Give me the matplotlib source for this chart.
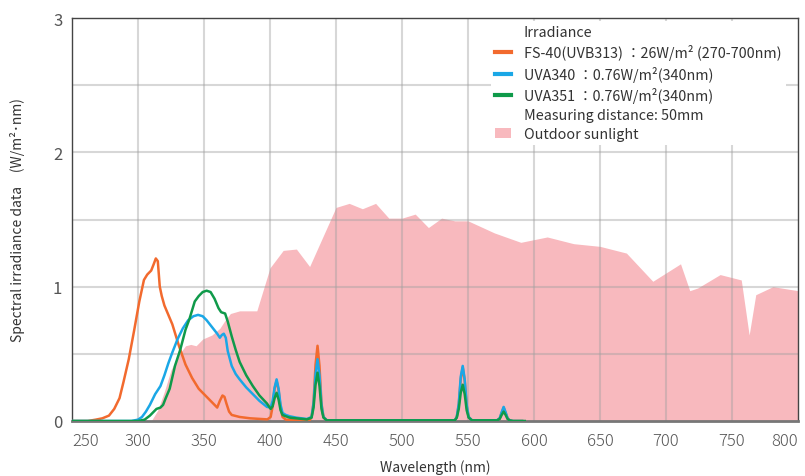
import matplotlib
matplotlib.use("Agg")
import matplotlib.pyplot as plt
from matplotlib.lines import Line2D
from matplotlib.patches import Patch

plt.rcParams['font.family'] = ['Noto Sans CJK JP', 'DejaVu Sans']

# ---- data ----
sun_nm = [310, 315, 320, 325, 330, 336, 340, 344, 349, 356, 362, 366, 370, 377, 390,
          400, 410, 420, 430, 450, 460, 470, 480, 490, 500, 510, 520, 530, 540, 550,
          570, 590, 610, 630, 650, 670, 690, 711, 718, 724, 741, 757, 763, 768, 781, 800]
sun_val = [0.0, 0.08, 0.22, 0.38, 0.48, 0.56, 0.57, 0.56, 0.61, 0.64, 0.69, 0.75, 0.80, 0.82, 0.82,
           1.14, 1.27, 1.28, 1.15, 1.59, 1.62, 1.58, 1.62, 1.51, 1.51, 1.54, 1.44, 1.51, 1.49, 1.49,
           1.40, 1.33, 1.37, 1.32, 1.30, 1.25, 1.04, 1.17, 0.97, 0.99, 1.09, 1.05, 0.64, 0.94, 1.00, 0.97]

fs40_nm = [250, 262, 268, 273, 278, 282, 286, 289, 293, 297, 301, 304.5, 307, 310, 312, 313.5,
           315, 316.5, 318, 320, 326, 331, 336, 341, 346, 352, 357, 360, 362, 364, 365.5, 367,
           369, 371, 377, 385, 398, 400.5, 402, 403.5, 405, 406.5, 408, 409.5, 412, 430,
           431.5, 433, 434.5, 436, 437.5, 439, 440.5, 443, 540, 541.5, 543, 544.5, 546,
           547.5, 549, 550.5, 553, 572, 574, 575.5, 577, 578.5, 580, 581.5, 584, 591]
fs40_val = [0.0, 0.0, 0.01, 0.02, 0.04, 0.09, 0.17, 0.29, 0.46, 0.67, 0.89, 1.05, 1.09, 1.12, 1.17, 1.21,
            1.19, 1.0, 0.93, 0.86, 0.72, 0.56, 0.42, 0.32, 0.24, 0.18, 0.13, 0.10, 0.15, 0.19, 0.18, 0.13,
            0.07, 0.045, 0.03, 0.02, 0.012, 0.03, 0.11, 0.24, 0.30, 0.23, 0.10, 0.03, 0.01, 0.005,
            0.03, 0.14, 0.42, 0.56, 0.41, 0.13, 0.03, 0.005, 0.005, 0.03, 0.12, 0.31, 0.40,
            0.30, 0.11, 0.03, 0.005, 0.005, 0.02, 0.06, 0.10, 0.06, 0.02, 0.005, 0.0, 0.0]

uva340_nm = [250, 295, 300, 303, 306, 309, 311, 313, 315, 317, 320, 323, 326, 330, 334, 338,
             342, 345.5, 349, 352, 356, 360, 362, 363.5, 365, 366.5, 368, 371, 374, 377, 382,
             387, 392, 397.7, 400.5, 402, 403.5, 405, 406.5, 408, 409.5, 412, 415, 420, 428,
             431.5, 433, 434.5, 436, 437.5, 439, 440.5, 443, 540, 541.5, 543, 544.5, 546,
             547.5, 549, 550.5, 553, 572, 574, 575.5, 577, 578.5, 580, 581.5, 584, 591]
uva340_val = [0.0, 0.0, 0.01, 0.03, 0.07, 0.12, 0.16, 0.20, 0.23, 0.26, 0.34, 0.43, 0.51, 0.61, 0.69, 0.75,
              0.78, 0.79, 0.78, 0.75, 0.70, 0.65, 0.62, 0.64, 0.65, 0.62, 0.52, 0.41, 0.35, 0.31, 0.25,
              0.20, 0.15, 0.105, 0.10, 0.15, 0.25, 0.31, 0.24, 0.12, 0.06, 0.045, 0.035, 0.025, 0.015,
              0.03, 0.13, 0.35, 0.46, 0.34, 0.12, 0.03, 0.005, 0.005, 0.03, 0.13, 0.33, 0.41,
              0.31, 0.12, 0.03, 0.005, 0.005, 0.02, 0.065, 0.105, 0.065, 0.02, 0.005, 0.0, 0.0]

uva351_nm = [250, 300, 305, 309, 312, 314, 317, 319, 321, 324, 328, 332, 336, 339, 343, 346,
             349, 352, 355, 358, 361, 363, 366, 368, 371, 374, 377, 382, 387, 392, 397.7, 400.5,
             402, 403.5, 405, 406.5, 408, 409.5, 412, 415, 420, 428,
             431.5, 433, 434.5, 436, 437.5, 439, 440.5, 443, 540, 541.5, 543, 544.5, 546,
             547.5, 549, 550.5, 553, 572, 574, 575.5, 577, 578.5, 580, 581.5, 584, 593]
uva351_val = [0.0, 0.0, 0.01, 0.04, 0.07, 0.09, 0.10, 0.12, 0.17, 0.24, 0.41, 0.53, 0.68, 0.76, 0.89, 0.93,
              0.96, 0.97, 0.96, 0.91, 0.84, 0.81, 0.80, 0.74, 0.63, 0.53, 0.44, 0.34, 0.26, 0.19, 0.13, 0.09,
              0.11, 0.17, 0.21, 0.16, 0.08, 0.045, 0.035, 0.025, 0.02, 0.012,
              0.025, 0.10, 0.27, 0.36, 0.26, 0.09, 0.025, 0.005, 0.005, 0.025, 0.09, 0.21, 0.27,
              0.20, 0.08, 0.025, 0.005, 0.005, 0.015, 0.045, 0.07, 0.045, 0.015, 0.005, 0.0, 0.0]

x_ticks = [250, 300, 350, 400, 450, 500, 550, 600, 650, 700, 750, 800]
y_ticks = [0, 1, 2, 3]

labels = ["Irradiance",
          "FS-40(UVB313) ：26W/m² (270-700nm)",
          "UVA340 ：0.76W/m²(340nm)",
          "UVA351 ：0.76W/m²(340nm)",
          "Measuring distance: 50mm",
          "Outdoor sunlight"]

c_sun = "#f8b9be"
c_fs = "#f26a2e"
c_340 = "#1aa7e6"
c_351 = "#0f9a4a"

# ---- figure ----
fig = plt.figure(figsize=(8.05, 4.77), dpi=100)
ax = fig.add_axes([72/805, 55/477, 726/805, 403/477])

ax.fill_between(sun_nm, sun_val, 0, color=c_sun, lw=0, zorder=1)
ax.plot(fs40_nm, fs40_val, color=c_fs, lw=1.8, zorder=3)
ax.plot(uva340_nm, uva340_val, color=c_340, lw=1.8, zorder=3)
ax.plot(uva351_nm, uva351_val, color=c_351, lw=1.8, zorder=4)

ax.set_xlim(250, 800)
ax.set_ylim(0, 3)
ax.set_xticks(x_ticks)
ax.set_yticks(y_ticks)
ax.grid(False)
for v in [300, 350, 400, 450, 500, 550, 600, 650, 700, 750]:
    ax.axvline(v, color="#a0a0a0", alpha=0.42, lw=1.5, zorder=2)
for h in [0.5, 1, 1.5, 2, 2.5]:
    ax.axhline(h, color="#a0a0a0", alpha=0.42, lw=1.5, zorder=2)

ax.tick_params(axis='both', which='both', length=0, labelcolor="#555555", labelsize=12)
ax.tick_params(axis='x', pad=8)
ax.tick_params(axis='y', pad=7)
xl = ax.get_xticklabels()
for t in xl:
    t.set_fontweight('light')
xl[0].set_horizontalalignment('left')
xl[-1].set_horizontalalignment('right')

for s in ['top', 'right', 'left']:
    ax.spines[s].set_color("#444444")
    ax.spines[s].set_linewidth(1.0)
ax.spines['bottom'].set_color("#777777")
ax.spines['bottom'].set_linewidth(2.0)

ax.set_xlabel("Wavelength (nm)", fontsize=10, color="#333333", labelpad=7)
ax.set_ylabel("Spectral irradiance data　(W/m²･nm)", fontsize=10, color="#333333", labelpad=20)

handles = [Line2D([], [], color='none'),
           Line2D([], [], color=c_fs, lw=3),
           Line2D([], [], color=c_340, lw=3),
           Line2D([], [], color=c_351, lw=3),
           Line2D([], [], color='none'),
           Patch(facecolor=c_sun, edgecolor='none')]
leg = ax.legend(handles, labels, loc='upper left',
                bbox_to_anchor=(491/805, 1 - 22/477), bbox_transform=fig.transFigure,
                fontsize=10.3, frameon=True, fancybox=False, framealpha=1.0,
                facecolor='white', edgecolor='none', handlelength=1.1,
                handletextpad=0.9, labelspacing=0.36, borderpad=0.3, borderaxespad=0)
for t in leg.get_texts():
    t.set_color("#333333")
leg.set_zorder(5)

fig.savefig("out.png", dpi=100)
